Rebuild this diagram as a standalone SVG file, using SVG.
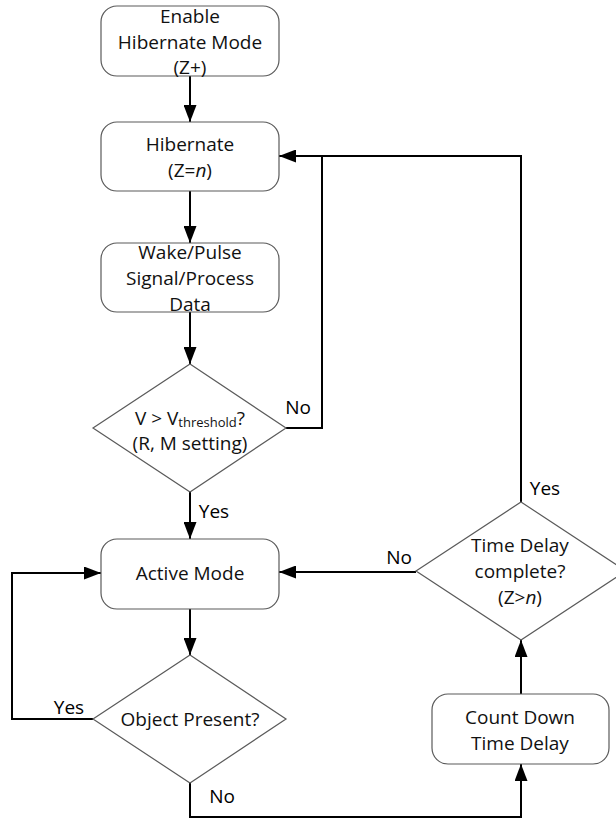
<svg xmlns="http://www.w3.org/2000/svg" width="616" height="820" viewBox="0 0 616 820">
<defs>
<marker id="ah" markerWidth="17" markerHeight="13" refX="17" refY="6.5" orient="auto" markerUnits="userSpaceOnUse">
<path d="M0,0 L17,6.5 L0,13 Z" fill="#000"/>
</marker>
<style>
.box{fill:#fff;stroke:#5a5a5a;stroke-width:1.2}
.t{font-family:"Open Sans","Liberation Sans",sans-serif;font-size:19px;fill:#111;text-anchor:middle;dominant-baseline:central}
.lb{font-family:"Open Sans","Liberation Sans",sans-serif;font-size:19px;fill:#000;text-anchor:middle;dominant-baseline:central}
.c{fill:none;stroke:#000;stroke-width:2}
</style>
</defs>
<rect width="616" height="820" fill="#fff"/>
<g id="connectors">
<path class="c" d="M190,76 V122" marker-end="url(#ah)"/>
<path class="c" d="M190,191 V243" marker-end="url(#ah)"/>
<path class="c" d="M190,312 V364" marker-end="url(#ah)"/>
<path class="c" d="M286,428 H322 V156 H279" marker-end="url(#ah)"/>
<path class="c" d="M190,492 V539" marker-end="url(#ah)"/>
<path class="c" d="M190,609 V655" marker-end="url(#ah)"/>
<path class="c" d="M93,719 H12 V573 H101" marker-end="url(#ah)"/>
<path class="c" d="M190,783 V817 H521 V764" marker-end="url(#ah)"/>
<path class="c" d="M521,694 V640" marker-end="url(#ah)"/>
<path class="c" d="M521,502 V156 H322"/>
<path class="c" d="M416,572 H279" marker-end="url(#ah)"/>
<text class="lb" x="298" y="407">No</text>
<text class="lb" x="214" y="511">Yes</text>
<text class="lb" x="545" y="488">Yes</text>
<text class="lb" x="399" y="557">No</text>
<text class="lb" x="69" y="707">Yes</text>
<text class="lb" x="222" y="796">No</text>
</g>
<g id="enable">
<rect class="box" x="101" y="6" width="178" height="70" rx="16"/>
<text class="t" x="190" y="16">Enable</text>
<text class="t" x="190" y="42">Hibernate Mode</text>
<text class="t" x="190" y="67">(Z+)</text>
</g>
<g id="hibernate">
<rect class="box" x="101" y="122" width="178" height="69" rx="16"/>
<text class="t" x="190" y="144">Hibernate</text>
<text class="t" x="190" y="170">(Z=<tspan font-style="italic">n</tspan>)</text>
</g>
<g id="wake">
<rect class="box" x="101" y="243" width="178" height="69" rx="16"/>
<text class="t" x="190" y="252">Wake/Pulse</text>
<text class="t" x="190" y="278">Signal/Process</text>
<text class="t" x="190" y="304">Data</text>
</g>
<g id="threshold">
<polygon class="box" points="190,364 286,428 190,492 93,428"/>
<text class="t" x="190" y="418">V &gt; V<tspan font-size="13" dy="4">threshold</tspan><tspan dy="-4">?</tspan></text>
<text class="t" x="190" y="443">(R, M setting)</text>
</g>
<g id="active">
<rect class="box" x="101" y="539" width="178" height="70" rx="16"/>
<text class="t" x="190" y="573">Active Mode</text>
</g>
<g id="object">
<polygon class="box" points="190,655 286,719 190,783 93,719"/>
<text class="t" x="190" y="719">Object Present?</text>
</g>
<g id="countdown">
<rect class="box" x="432" y="694" width="177" height="70" rx="16"/>
<text class="t" x="520" y="717">Count Down</text>
<text class="t" x="520" y="743">Time Delay</text>
</g>
<g id="timedelay">
<polygon class="box" points="521,502 626,571 521,640 416,571"/>
<text class="t" x="520" y="545">Time Delay</text>
<text class="t" x="520" y="571">complete?</text>
<text class="t" x="520" y="597">(Z&gt;<tspan font-style="italic">n</tspan>)</text>
</g>
</svg>
